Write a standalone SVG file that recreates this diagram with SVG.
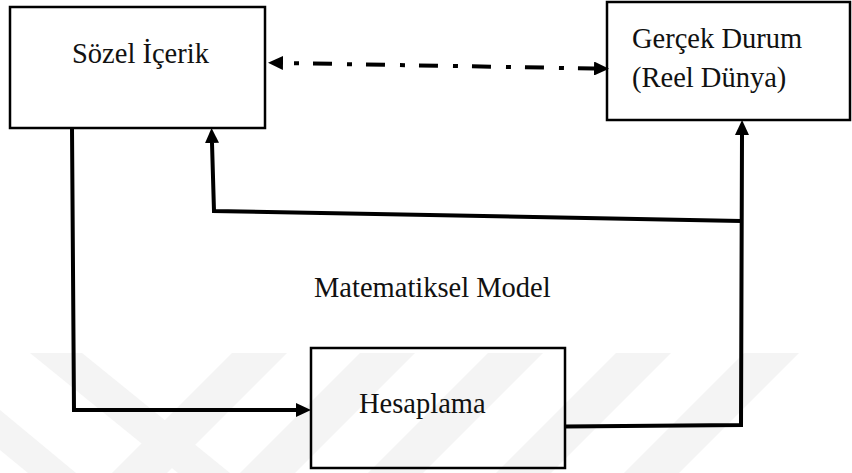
<svg xmlns="http://www.w3.org/2000/svg" width="852" height="473" viewBox="0 0 852 473">
<style>
.box{fill:none;stroke:#000;stroke-width:2.5}
.lbl{font-family:"Liberation Serif","Times New Roman",serif;font-size:28.5px;fill:#111}
.con{fill:none;stroke:#000;stroke-width:4;stroke-linejoin:miter}
.wm{fill:#f4f4f4}
</style>
<defs>
<marker id="ah" markerUnits="userSpaceOnUse" markerWidth="16" markerHeight="14" refX="0" refY="7" orient="auto-start-reverse">
<path d="M0,0 L15,7 L0,14 Z" fill="#000"/>
</marker>
</defs>
<rect width="852" height="473" fill="#fff"/>
<g id="watermark">
<polygon class="wm" points="30,353 82,353 230,473 178,473"/>
<polygon class="wm" points="0,410 0,450 28,473 76,473"/>
<polygon class="wm" points="232,353 287,353 167,473 112,473"/>
<polygon class="wm" points="360,353 415,353 295,473 240,473"/>
<polygon class="wm" points="488,353 543,353 423,473 368,473"/>
<polygon class="wm" points="616,353 671,353 551,473 496,473"/>
<polygon class="wm" points="744,353 799,353 679,473 624,473"/>
</g>
<g id="connectors">
<path class="con" d="M72,128 L74,410 L296,410" marker-end="url(#ah)"/>
<path class="con" d="M565,426.5 L741,425 L742,135" marker-end="url(#ah)"/>
<path class="con" d="M741,221 L214,211 L212,143" marker-end="url(#ah)"/>
<path class="con" d="M283,63 L594,68.5" stroke-width="4.5" stroke-dasharray="5 14 19 15" stroke-dashoffset="42" marker-start="url(#ah)" marker-end="url(#ah)"/>
</g>
<g id="sozel">
<rect class="box" x="10" y="7" width="255" height="121" stroke-width="2"/>
<text class="lbl" x="72" y="63">Sözel İçerik</text>
</g>
<g id="gercek">
<rect class="box" x="607" y="2" width="243" height="118"/>
<text class="lbl" x="632" y="48">Gerçek Durum</text>
<text class="lbl" x="632" y="87">(Reel Dünya)</text>
</g>
<g id="hesaplama">
<rect class="box" x="311" y="348" width="254" height="120"/>
<text class="lbl" x="359" y="413">Hesaplama</text>
</g>
<g id="model-label">
<text class="lbl" x="314" y="297">Matematiksel Model</text>
</g>
</svg>
